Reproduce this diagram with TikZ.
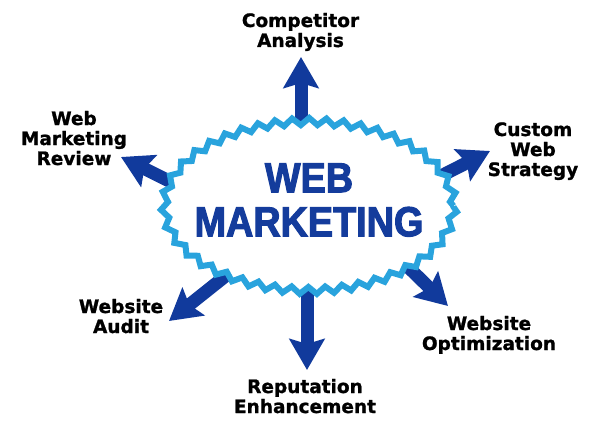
\documentclass[tikz,border=0pt]{standalone}
\usepackage{fontspec}
\setmainfont{DejaVu Sans}
\newfontfamily\labelfont[FakeBold=1.2]{DejaVu Sans}
\newfontfamily\titlefont[FakeStretch=0.9,FakeBold=2.5]{Liberation Sans}
\usetikzlibrary{arrows.meta,shapes.geometric,decorations.pathmorphing}
\definecolor{ringblue}{HTML}{29A3DD}
\definecolor{arrowblue}{HTML}{113A9C}
\definecolor{titleblue}{HTML}{143C9C}
\tikzset{
  item/.style={font=\labelfont\bfseries\fontsize{18.5}{20}\selectfont,align=center,anchor=base,inner sep=0pt},
  flow/.style={draw=arrowblue,line width=13pt,-{Stealth[length=31pt,width=35pt,inset=5pt]}},
  hub/.style={ellipse,draw=ringblue,fill=white,line width=6pt,minimum width=289pt,minimum height=169pt,inner sep=0pt,
    decorate,decoration={zigzag,segment length=17pt,amplitude=3.5pt}},
  bigtitle/.style={font=\titlefont\bfseries\fontsize{42}{44}\selectfont,text=titleblue,align=center,inner sep=0pt}
}
\begin{document}
\begin{tikzpicture}[x=1pt,y=-1pt]
\useasboundingbox (0,0) rectangle (600,428);
\coordinate (t1) at (301,140);   \coordinate (h1) at (301,57);
\coordinate (t2) at (421.4,185.9); \coordinate (h2) at (490,151);
\coordinate (t3) at (390.8,250.1); \coordinate (h3) at (448,306);
\coordinate (t4) at (307,280);   \coordinate (h4) at (307,370);
\coordinate (t5) at (240.2,264.3); \coordinate (h5) at (169,321);
\coordinate (t6) at (188.1,190.5); \coordinate (h6) at (121,157);
\foreach \i in {1,...,6} \draw[flow] (t\i) -- (h\i);
\node (hub) at (309,206)[hub]{};
\node (title) at (309,200)[bigtitle]{WEB\\MARKETING};
\node (comp) at (300.5,47)[item]{Competitor\\Analysis};
\node (custom) at (533,176)[item]{Custom\\Web\\Strategy};
\node (optim) at (489,350)[item]{Website\\Optimization};
\node (reput) at (305,413)[item]{Reputation\\Enhancement};
\node (audit) at (121,333)[item]{Website\\Audit};
\node (review) at (74,165)[item]{Web\\Marketing\\Review};
\end{tikzpicture}
\end{document}
